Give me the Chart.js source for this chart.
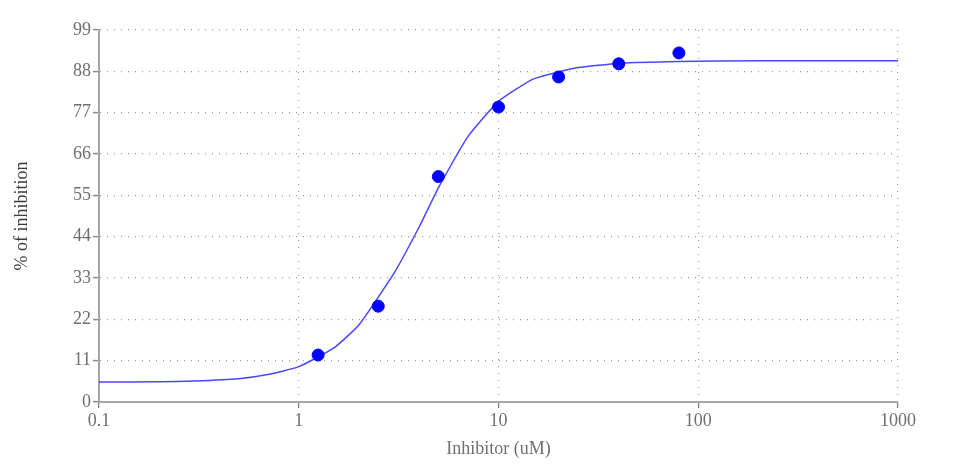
<!DOCTYPE html>
<html>
<head>
<meta charset="utf-8">
<script src="https://cdn.jsdelivr.net/npm/chart.js@4.4.1/dist/chart.umd.min.js"></script>
<style>
  html, body { margin: 0; padding: 0; background: #fff; }
  #wrap { width: 954px; height: 469px; position: relative; }
</style>
</head>
<body>
<div id="wrap"><canvas id="myChart"></canvas></div>
<script>
// measured points
const doseX = [1.25, 2.5, 5, 10, 20, 40, 80];
const inhibitionY = [12.5, 25.5, 60, 78.5, 86.5, 90, 92.9];

// fitted curve
const curveX = [0.1, 0.2, 0.3, 0.5, 0.7, 1, 1.5, 2, 3, 4, 5, 7, 10, 15, 25, 40, 80, 200, 1000];
const curveY = [5.3, 5.4, 5.6, 6.2, 7.3, 9.4, 14.4, 20.5, 34.3, 46.5, 57, 70.5, 80, 86, 89, 90.1, 90.6, 90.8, 90.8];

const xTicks = [0.1, 1, 10, 100, 1000];
const yTicks = [0, 11, 22, 33, 44, 55, 66, 77, 88, 99];

const serif = "'Liberation Serif', 'DejaVu Serif', serif";

const ctx = document.getElementById('myChart').getContext('2d');

new Chart(ctx, {
    type: 'scatter',
    data: {
        datasets: [
            {
                type: 'line',
                data: curveX.map((x, i) => ({ x: x, y: curveY[i] })),
                borderColor: 'rgba(40, 40, 255, 0.85)',
                borderWidth: 1.5,
                pointRadius: 0,
                tension: 0.15,
                fill: false,
                order: 2
            },
            {
                data: doseX.map((x, i) => ({ x: x, y: inhibitionY[i] })),
                backgroundColor: '#0000ff',
                borderColor: '#0000ff',
                pointRadius: 6,
                pointHoverRadius: 6,
                order: 1
            }
        ]
    },
    options: {
        responsive: true,
        maintainAspectRatio: false,
        animation: false,
        layout: {
            padding: { left: 11, right: 56, top: 30, bottom: 9 }
        },
        plugins: {
            legend: { display: false },
            tooltip: { enabled: false }
        },
        scales: {
            x: {
                type: 'logarithmic',
                min: 0.1,
                max: 1000,
                afterBuildTicks: (scale) => {
                    scale.ticks = xTicks.map(v => ({ value: v }));
                },
                afterFit: (scale) => { scale.height = 58; },
                ticks: {
                    callback: (v) => String(v),
                    color: '#6e6e6e',
                    font: { family: serif, size: 18 },
                    maxRotation: 0,
                    padding: 2
                },
                grid: {
                    color: '#999',
                    lineWidth: 1.2,
                    tickBorderDash: [],
                    tickColor: '#8a8a8a',
                    tickLength: 6,
                    tickWidth: 1.5
                },
                border: { display: true, color: '#a6a6a6', width: 2, dash: [1, 6] },
                title: {
                    display: true,
                    text: 'Inhibitor (uM)',
                    color: '#707070',
                    font: { family: serif, size: 18 },
                    padding: 0
                }
            },
            y: {
                min: 0,
                max: 99,
                afterBuildTicks: (scale) => {
                    scale.ticks = yTicks.map(v => ({ value: v }));
                },
                afterFit: (scale) => { scale.width = 88; },
                ticks: {
                    color: '#6e6e6e',
                    font: { family: serif, size: 18 },
                    padding: 2
                },
                grid: {
                    color: '#999',
                    lineWidth: 1.2,
                    tickBorderDash: [],
                    tickColor: '#8a8a8a',
                    tickLength: 6,
                    tickWidth: 1.5
                },
                border: { display: true, color: '#a6a6a6', width: 2, dash: [1, 6] },
                title: {
                    display: true,
                    text: '% of inhibition',
                    color: '#3a3a3a',
                    font: { family: serif, size: 18 },
                    padding: 0
                }
            }
        }
    }
});
</script>
</body>
</html>
